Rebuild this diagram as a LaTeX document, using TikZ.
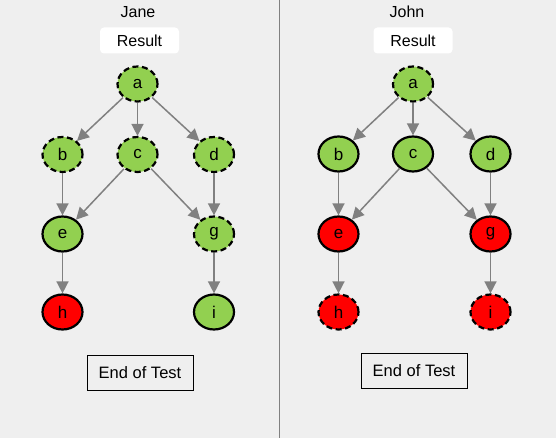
\documentclass[tikz,border=0pt]{standalone}
\usepackage{fontspec}
\setmainfont{Liberation Sans}
\usetikzlibrary{arrows.meta,shapes.geometric}
\definecolor{bg}{HTML}{EFEFEF}
\definecolor{ngreen}{HTML}{92D050}
\definecolor{nred}{HTML}{FF0000}
\definecolor{egray}{HTML}{808080}
\tikzset{
  vert/.style={ellipse, draw=black, line width=2.2pt, minimum width=40pt, minimum height=35pt, inner sep=0pt, font=\fontsize{17}{18}\selectfont},
  gr/.style={vert, fill=ngreen},
  rd/.style={vert, fill=nred},
  dsh/.style={dash pattern=on 6pt off 3.5pt},
  edge/.style={draw=egray, line width=1.5pt, -{Triangle[length=12pt,width=12pt]}},
  resbox/.style={fill=white, rounded corners=4pt, minimum width=79pt, minimum height=26pt, inner sep=0pt, font=\fontsize{16}{18}\selectfont},
  endbox/.style={draw=black, line width=1pt, minimum width=106pt, minimum height=35pt, inner sep=0pt, font=\fontsize{16.5}{18}\selectfont},
  title/.style={font=\fontsize{16}{18}\selectfont, inner sep=0pt}
}
\begin{document}
\begin{tikzpicture}[x=1pt,y=-1pt]
\fill[bg] (0,0) rectangle (556,438);
\useasboundingbox (0,0) rectangle (556,438);
\draw[egray, line width=1pt] (279,0) -- (279,438);
% Jane
\node[title] (tj) at (138,12) {Jane};
\node[resbox] (rj) at (139.5,40.5) {Result};
\node[gr,dsh] (ja) at (137.5,84) {a};
\node[gr,dsh] (jb) at (62.5,154.5) {b};
\node[gr,dsh] (jc) at (137.5,154.5) {c};
\node[gr,dsh] (jd) at (214,154.5) {d};
\node[gr] (je) at (62.5,234) {e};
\node[gr,dsh] (jg) at (214,234) {g};
\node[rd] (jh) at (62.5,312) {h};
\node[gr] (ji) at (214,312) {i};
\node[endbox] (ej) at (140,372.5) {End of Test};
\draw[edge] (ja) -- (jb);
\draw[edge] (ja) -- (jc);
\draw[edge] (ja) -- (jd);
\draw[edge] (jb) -- (je);
\draw[edge] (jc) -- (je);
\draw[edge] (jc) -- (jg);
\draw[edge] (jd) -- (jg);
\draw[edge] (je) -- (jh);
\draw[edge] (jg) -- (ji);
% John
\node[title] (tn) at (407,12) {John};
\node[resbox] (rn) at (413,40.5) {Result};
\node[gr,dsh] (na) at (413,84) {a};
\node[gr] (nb) at (338.5,154) {b};
\node[gr] (nc) at (413,154) {c};
\node[gr] (nd) at (490.5,154) {d};
\node[rd] (ne) at (338.5,234) {e};
\node[rd] (ng) at (490.5,234) {g};
\node[rd,dsh] (nh) at (338.5,312) {h};
\node[rd,dsh] (ni) at (490.5,312) {i};
\node[endbox] (en) at (414,370.5) {End of Test};
\draw[edge] (na) -- (nb);
\draw[edge] (na) -- (nc);
\draw[edge] (na) -- (nd);
\draw[edge] (nb) -- (ne);
\draw[edge] (nc) -- (ne);
\draw[edge] (nc) -- (ng);
\draw[edge] (nd) -- (ng);
\draw[edge] (ne) -- (nh);
\draw[edge] (ng) -- (ni);
\end{tikzpicture}
\end{document}
